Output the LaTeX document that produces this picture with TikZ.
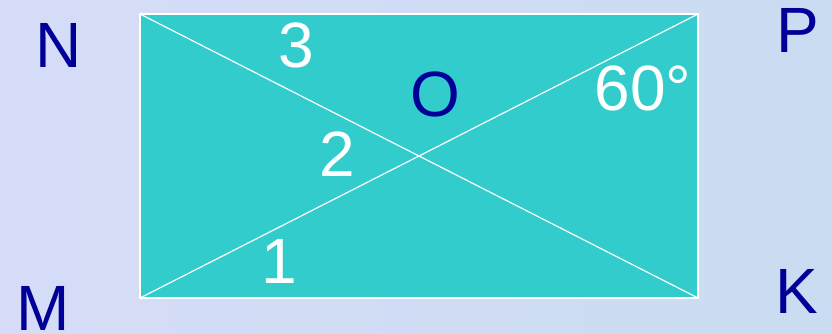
\documentclass[tikz,border=0pt]{standalone}
\usepackage{fontspec}
\setmainfont{Liberation Sans}
\definecolor{bgc}{RGB}{214,220,247}
\definecolor{bgd}{RGB}{202,220,242}
\definecolor{teal1}{RGB}{51,204,204}
\definecolor{lblue}{RGB}{0,0,153}
\tikzset{
  vlabel/.style={font=\fontsize{64}{64}\selectfont, text=lblue, anchor=base, inner sep=0pt},
  wlabel/.style={font=\fontsize{64}{64}\selectfont, text=white, anchor=base, inner sep=0pt},
  edge/.style={draw=white, line width=1.5pt}
}
\begin{document}
\begin{tikzpicture}[x=1pt,y=-1pt]
\useasboundingbox (0,0) rectangle (832,334);
\shade[left color=bgc, right color=bgd] (0,0) rectangle (832,334);
\coordinate (M) at (140,298);
\coordinate (N) at (140,14);
\coordinate (P) at (698,14);
\coordinate (K) at (698,298);
\fill[teal1] (M) rectangle (P);
\draw[edge] (M) -- (N) -- (P) -- (K) -- cycle;
\draw[edge, line width=1.2pt] (N) -- (K);
\draw[edge, line width=1.2pt] (M) -- (P);
\node[vlabel] (lN) at (59,68) {N};
\node[vlabel] (lP) at (798,53) {P};
\node[vlabel] (lM) at (43,330) {M};
\node[vlabel] (lK) at (797,313) {K};
\node[vlabel] (lO) at (435.5,117) {O};
\node[wlabel] (l3) at (296.5,68) {3};
\node[wlabel] (l2) at (337,176) {2};
\node[wlabel] (l1) at (279,283) {1};
\node[wlabel] (l60) at (643,111) {60°};
\end{tikzpicture}
\end{document}
